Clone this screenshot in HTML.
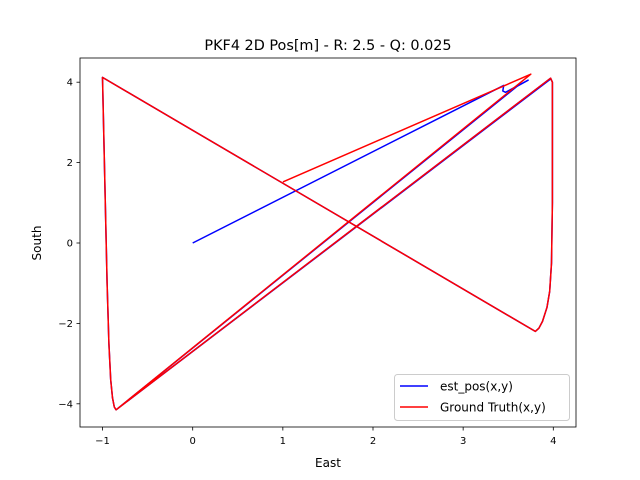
<!DOCTYPE html>
<html><head><meta charset="utf-8"><style>
html,body{margin:0;padding:0;background:#fff;overflow:hidden;}
svg{display:block;font-family:"DejaVu Sans","Liberation Sans",sans-serif;}
</style></head><body>
<svg id="chart" width="640" height="480" viewBox="0 0 640 480">
<defs><clipPath id="clip"><rect x="80" y="58" width="496" height="369"/></clipPath></defs>
<rect x="0" y="0" width="640" height="480" fill="#fff"/>
<text x="328" y="50" font-size="14.4" text-anchor="middle">PKF4 2D Pos[m] - R: 2.5 - Q: 0.025</text>
<g id="plot" clip-path="url(#clip)"></g>
<g id="axes"></g>
<text x="328" y="467" font-size="12" text-anchor="middle">East</text>
<text x="41" y="243" font-size="12" text-anchor="middle" transform="rotate(-90 41 243)">South</text>
<g>
<rect x="394.5" y="374.5" width="175" height="46" rx="3" fill="#fff" fill-opacity="0.8" stroke="#ccc"/>
<line x1="400" y1="386" x2="428" y2="386" stroke="#0000ff" stroke-width="1.5"/>
<text x="440" y="390.5" font-size="12">est_pos(x,y)</text>
<line x1="400" y1="407" x2="428" y2="407" stroke="#ff0000" stroke-width="1.5"/>
<text x="440" y="411.5" font-size="12">Ground Truth(x,y)</text>
</g>
</svg>
<script>
const xTicks=[-1,0,1,2,3,4];
const yTicks=[-4,-2,0,2,4];
const estX=[0,3.45,3.44,3.47,3.72,3.6,-0.85,3.97,3.99,3.99,3.98,3.96,3.93,3.88,3.84,3.8,-1.0,-0.99,-0.97,-0.95,-0.93,-0.91,-0.89,-0.87,-0.85,3.97];
const estY=[0,3.92,3.78,3.75,4.05,3.9,-4.15,4.1,4.0,1.0,-0.5,-1.2,-1.6,-1.95,-2.12,-2.2,4.12,3.0,1.0,-1.0,-2.5,-3.4,-3.85,-4.08,-4.15,4.08];
const gtX=[1.0,3.75,-0.85,3.97,3.99,3.99,3.98,3.96,3.93,3.88,3.84,3.8,-1.0,-0.99,-0.97,-0.95,-0.93,-0.91,-0.89,-0.87,-0.85,3.97];
const gtY=[1.52,4.2,-4.15,4.1,4.0,1.0,-0.5,-1.2,-1.6,-1.95,-2.12,-2.2,4.12,3.0,1.0,-1.0,-2.5,-3.4,-3.85,-4.08,-4.15,4.1];
const L=80,R=576,T=58,B=427;
function sx(v){return 192.7+v*90.15;}
function sy(v){return 243-v*40.2;}
const NS="http://www.w3.org/2000/svg";
const plot=document.getElementById('plot'),axes=document.getElementById('axes');
function mk(tag,attrs,parent){const e=document.createElementNS(NS,tag);for(const k in attrs)e.setAttribute(k,attrs[k]);parent.appendChild(e);return e;}
function series(xs,ys,color,name){
  let d='';for(let i=0;i<xs.length;i++)d+=(i?'L':'M')+sx(xs[i]).toFixed(1)+' '+sy(ys[i]).toFixed(1);
  const p=mk('path',{d:d,fill:'none',stroke:color,'stroke-width':1.5,'stroke-linejoin':'round'},plot);
  
  
}
series(estX,estY,'#0000ff','est-pos-line');
series(gtX,gtY,'#ff0000','ground-truth-line');
const fr=mk('rect',{x:L,y:T,width:R-L,height:B-T,fill:'none',stroke:'#000','stroke-width':0.8},axes);


xTicks.forEach(v=>{const x=sx(v);
  const t=mk('line',{x1:x,y1:B,x2:x,y2:B+3.5,stroke:'#000','stroke-width':0.8},axes);
  
  
  const l=mk('text',{x:x,y:B+17,'font-size':10,'text-anchor':'middle'},axes);l.textContent=v<0?'\u2212'+(-v):v;
  
  });
yTicks.forEach(v=>{const y=sy(v);
  const t=mk('line',{x1:L-3.5,y1:y,x2:L,y2:y,stroke:'#000','stroke-width':0.8},axes);
  
  
  const l=mk('text',{x:L-7,y:y+3.5,'font-size':10,'text-anchor':'end'},axes);l.textContent=v<0?'\u2212'+(-v):v;
  
  });
</script>
</body></html>
